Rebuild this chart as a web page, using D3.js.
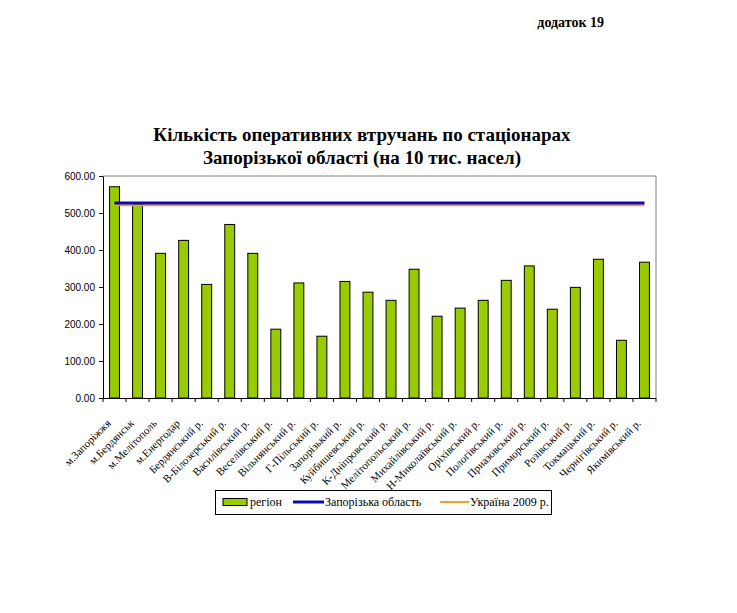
<!DOCTYPE html>
<html>
<head>
<meta charset="utf-8">
<script src="https://cdn.jsdelivr.net/npm/d3@7"></script>
<style>
  body { margin: 0; background: #fff; }
  svg { display: block; }
</style>
</head>
<body>
<svg id="chart"></svg>
<script>
// categories and values
var regions = ["м.Запоріжжя", "м.Бердянськ", "м.Мелітополь", "м.Енергодар", "Бердянський р.",
  "В-Білозерський р.", "Василівський р.", "Веселівський р.", "Вільнянський р.", "Г-Пільський р.",
  "Запорізький р.", "Куйбишевський р.", "К-Дніпровський р.", "Мелітопольський р.", "Михайлівський р.",
  "Н-Миколаївський р.", "Оріхівський р.", "Пологівський р.", "Приазовський р.", "Приморський р.",
  "Розівський р.", "Токмацький р.", "Чернігівський р.", "Якимівський р."];
var regionValues = [571, 523, 391, 426, 307, 469, 391, 186, 311, 167, 315, 286,
  264, 348, 221, 243, 264, 318, 357, 240, 299, 375, 156, 367];
var oblastValue = 527;
var ukraineValue = 521;
var yTicks = [0, 100, 200, 300, 400, 500, 600];
var seriesNames = ["регіон", "Запорізька область", "Україна 2009 р."];

var W = 737, H = 613;
var svg = d3.select("#chart").attr("width", W).attr("height", H);
var plot = {left: 103, right: 656, top: 176, bottom: 398};

var x = d3.scaleBand().domain(regions).range([plot.left, plot.right])
  .paddingInner(0.57).paddingOuter(0.285);
var y = d3.scaleLinear().domain([0, 600]).range([plot.bottom, plot.top]);
var cx = function(d){ return x(d) + x.bandwidth() / 2; };

var serif = "'Times New Roman', 'Liberation Serif', 'DejaVu Serif', serif";
var sans = "'Liberation Sans', Arial, sans-serif";

// header and title
svg.append("text").attr("x", 604).attr("y", 27).attr("text-anchor", "end")
  .attr("font-family", serif).attr("font-weight", "bold").attr("font-size", 14)
  .text("додаток 19");
var title = svg.append("text").attr("text-anchor", "middle")
  .attr("font-family", serif).attr("font-weight", "bold").attr("font-size", 19);
title.append("tspan").attr("x", 362).attr("y", 141).text("Кількість оперативних втручань по стаціонарах");
title.append("tspan").attr("x", 362).attr("y", 164).text("Запорізької області (на 10 тис. насел)");

// plot frame (gray top and right)
svg.append("path")
  .attr("d", "M" + plot.left + "," + plot.top + "H" + plot.right + "V" + plot.bottom)
  .attr("fill", "none").attr("stroke", "#808080").attr("stroke-width", 1);

// bars
svg.append("g").selectAll("rect").data(regions).enter().append("rect")
  .attr("x", function(d){ return x(d); })
  .attr("y", function(d, i){ return y(regionValues[i]); })
  .attr("width", x.bandwidth())
  .attr("height", function(d, i){ return y(0) - y(regionValues[i]); })
  .attr("fill", "#99cc00").attr("stroke", "#000").attr("stroke-width", 1);

// reference lines
var line = d3.line().x(function(d){ return cx(d[0]); }).y(function(d){ return y(d[1]); });
var first = regions[0], last = regions[regions.length - 1];
svg.append("path").datum([[first, ukraineValue], [last, ukraineValue]])
  .attr("d", line).attr("stroke", "#f0a030").attr("stroke-width", 2.2).attr("fill", "none");
svg.append("path").datum([[first, oblastValue], [last, oblastValue]])
  .attr("d", line).attr("stroke", "#0a0ab4").attr("stroke-width", 3.2).attr("fill", "none");

// y axis
var yAxis = svg.append("g").attr("transform", "translate(" + plot.left + ",0)")
  .call(d3.axisLeft(y).tickValues(yTicks).tickFormat(d3.format(".2f")).tickSize(4).tickSizeOuter(0));
yAxis.selectAll("text").attr("font-family", sans).attr("font-size", 10).attr("fill", "#000").attr("dx", "-1");
yAxis.selectAll("line, path").attr("stroke", "#000");

// x axis with ticks at category boundaries
var gap = (x.step() - x.bandwidth()) / 2;
var xAxis = svg.append("g");
xAxis.append("line").attr("x1", plot.left).attr("x2", plot.right)
  .attr("y1", plot.bottom + 0.5).attr("y2", plot.bottom + 0.5).attr("stroke", "#000");
xAxis.selectAll(".tick").data(regions.concat(["end"])).enter().append("line")
  .attr("x1", function(d){ return d === "end" ? plot.right : x(d) - gap; })
  .attr("x2", function(d){ return d === "end" ? plot.right : x(d) - gap; })
  .attr("y1", plot.bottom).attr("y2", plot.bottom + 4).attr("stroke", "#000");
xAxis.selectAll("text").data(regions).enter().append("text")
  .attr("transform", function(d){ return "translate(" + (cx(d) - 3) + "," + (plot.bottom + 26) + ") rotate(-45)"; })
  .attr("text-anchor", "end").attr("font-family", serif).attr("font-size", 11)
  .text(function(d){ return d; });

// legend
var lg = svg.append("g").attr("font-family", serif).attr("font-size", 12);
lg.append("rect").attr("x", 215.5).attr("y", 490.5).attr("width", 336).attr("height", 24)
  .attr("fill", "#fff").attr("stroke", "#000");
lg.append("rect").attr("x", 223).attr("y", 498.5).attr("width", 24).attr("height", 7)
  .attr("fill", "#99cc00").attr("stroke", "#000");
lg.append("text").attr("x", 250).attr("y", 506).text(seriesNames[0]);
lg.append("line").attr("x1", 293).attr("x2", 324).attr("y1", 502).attr("y2", 502)
  .attr("stroke", "#0a0ab4").attr("stroke-width", 3);
lg.append("text").attr("x", 325).attr("y", 506).text(seriesNames[1]);
lg.append("line").attr("x1", 440).attr("x2", 469).attr("y1", 502).attr("y2", 502)
  .attr("stroke", "#f0a030").attr("stroke-width", 2);
lg.append("text").attr("x", 470).attr("y", 506).text(seriesNames[2]);
</script>
</body>
</html>
